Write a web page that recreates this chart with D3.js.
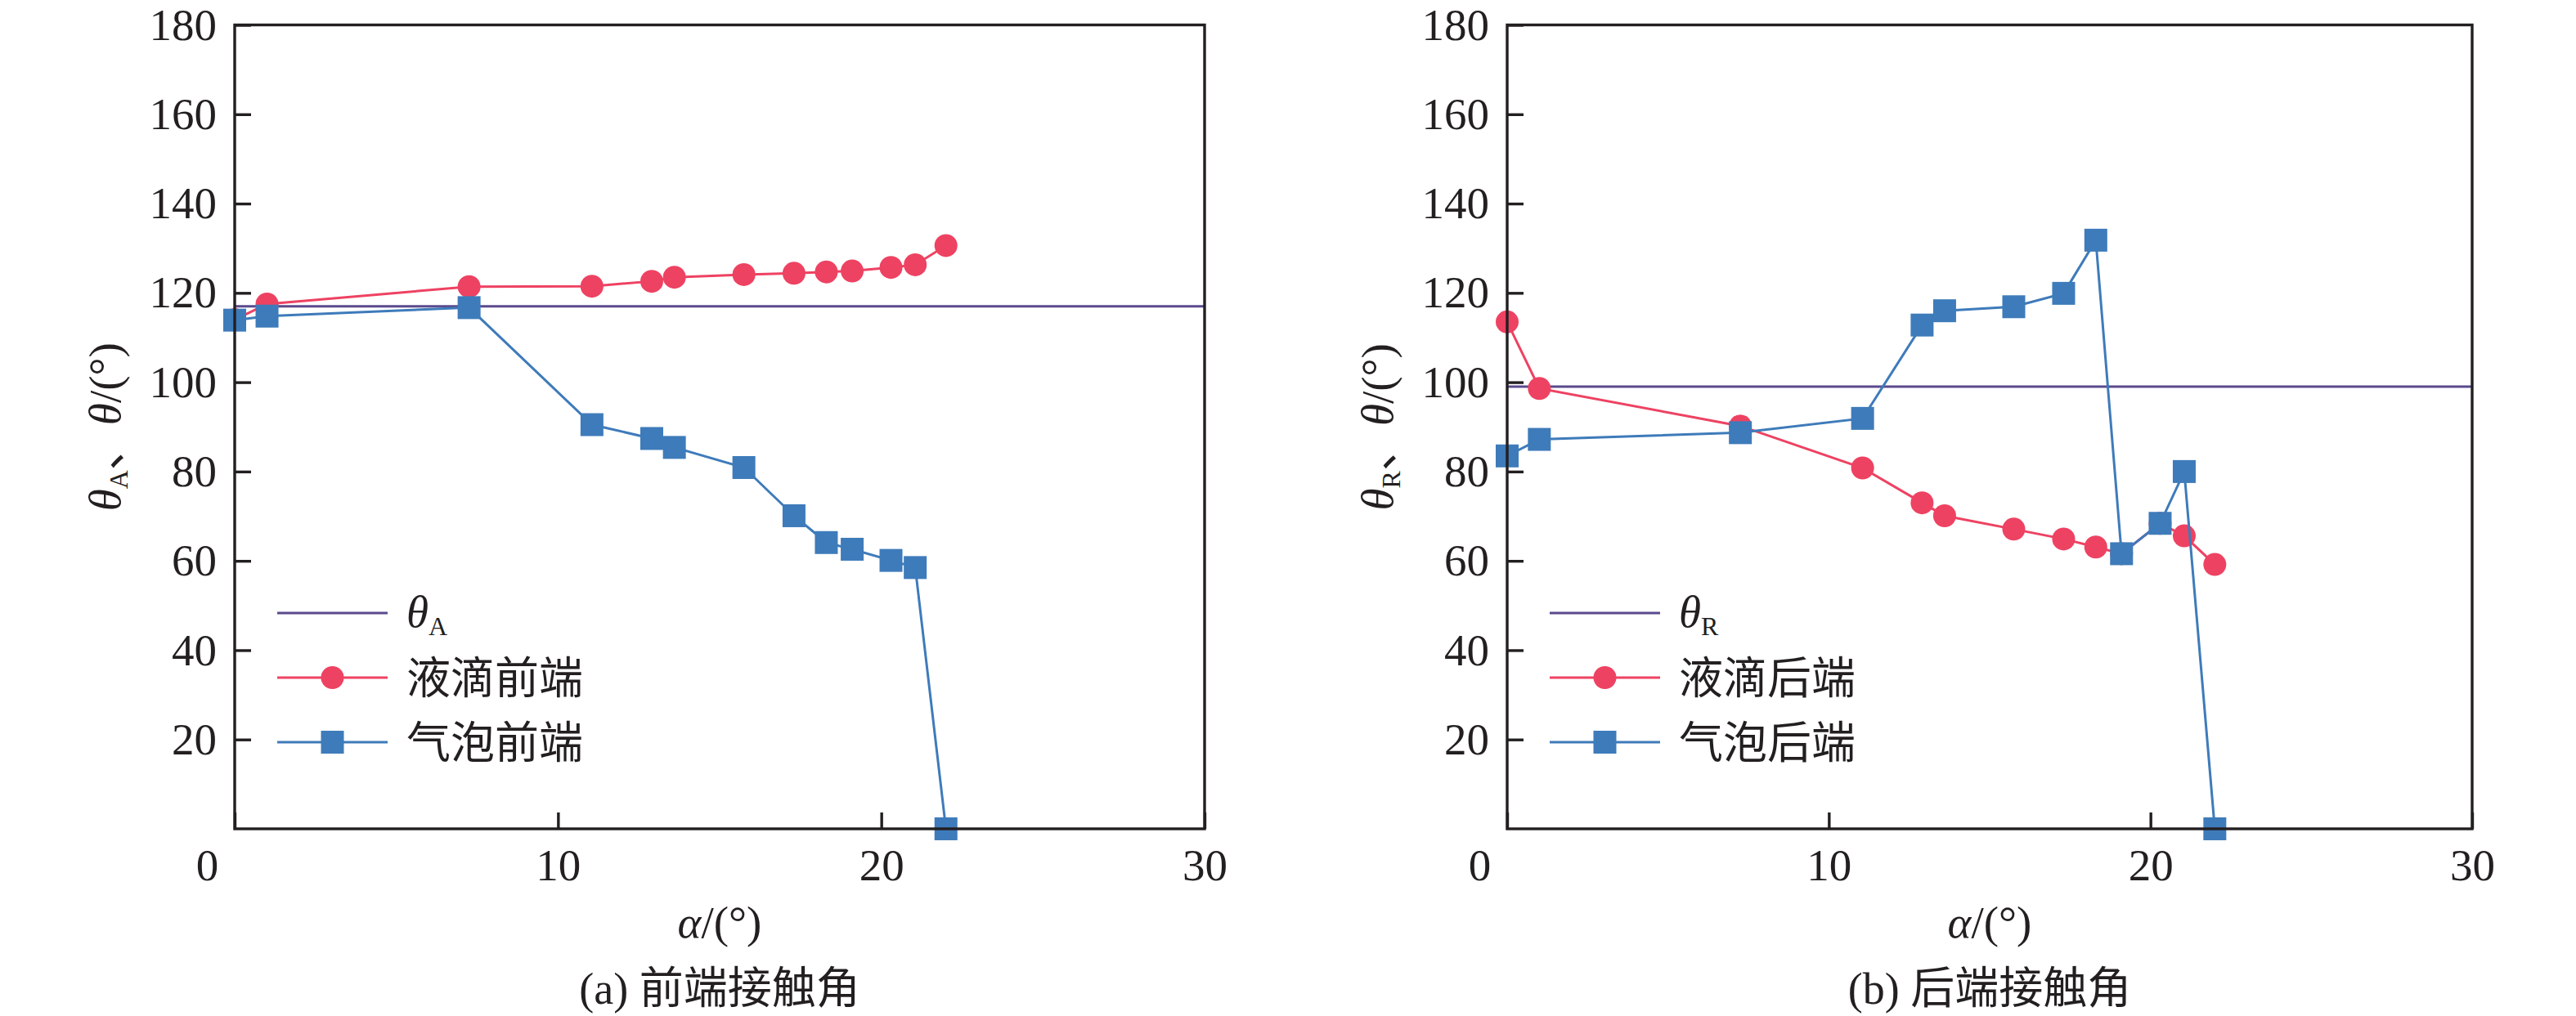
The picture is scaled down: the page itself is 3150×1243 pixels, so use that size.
<!DOCTYPE html>
<html>
<head>
<meta charset="utf-8">
<script src="https://cdn.jsdelivr.net/npm/d3@7"></script>
<style>
  body { margin: 0; background: #fff; }
  svg { display: block; }
</style>
</head>
<body>
<div id="chart"></div>
<script>
// contact angle vs. inclination, two panels (front / rear)
const alpha = [0, 1.0, 7.25, 11.05, 12.9, 13.6, 15.75, 17.3, 18.3, 19.1, 20.3, 21.05, 22.0];

const dropFront   = [114.0, 117.5, 121.4, 121.5, 122.6, 123.5, 124.1, 124.4, 124.7, 124.9, 125.7, 126.3, 130.6];
const bubbleFront = [113.9, 114.8, 116.7, 90.5, 87.4, 85.4, 80.9, 70.1, 64.1, 62.6, 60.1, 58.5, 0];
const thetaA = 117;

const dropRear   = [113.5, 98.6, 90.2, 80.8, 73.0, 70.1, 67.1, 64.9, 63.1, 61.6, 68.4, 65.6, 59.2];
const bubbleRear = [83.5, 87.2, 88.7, 91.9, 112.8, 116.0, 116.9, 119.9, 131.8, 61.6, 68.4, 80.0, 0];
const thetaR = 99;

const xTicks = [0, 10, 20, 30];
const yTicks = [20, 40, 60, 80, 100, 120, 140, 160, 180];

const legendFront = ["液滴前端", "气泡前端"];
const legendRear  = ["液滴后端", "气泡后端"];
const captions = ["(a) 前端接触角", "(b) 后端接触角"];

const RED = "#ee4262", BLUE = "#3e7bba", PURPLE = "#5b4a8d", INK = "#231f20";
const LATIN = "'Liberation Serif','Times New Roman',serif";
const MIXED = "'Liberation Serif','Noto Sans CJK SC',serif";

const W = 3150, H = 1243;
const svg = d3.select("#chart").append("svg").attr("width", W).attr("height", H);

function drawPanel(p) {
  const top = 30.5, bottom = 1014;
  const x = d3.scaleLinear().domain([0, 30]).range([p.left, p.right]);
  const y = d3.scaleLinear().domain([0, 180]).range([bottom, top]);
  const g = svg.append("g");

  // reference line (theta_A / theta_R)
  g.append("line")
    .attr("x1", x(0)).attr("x2", x(30))
    .attr("y1", y(p.ref)).attr("y2", y(p.ref))
    .attr("stroke", PURPLE).attr("stroke-width", 3);

  const line = d3.line().x(d => x(d[0])).y(d => y(d[1]));

  // drop series
  const drop = d3.zip(alpha, p.drop);
  g.append("path").datum(drop).attr("d", line)
    .attr("fill", "none").attr("stroke", RED).attr("stroke-width", 3);
  g.selectAll(".dot").data(drop).enter().append("circle")
    .attr("cx", d => x(d[0])).attr("cy", d => y(d[1])).attr("r", 14)
    .attr("fill", RED);

  // bubble series
  const bub = d3.zip(alpha, p.bubble);
  g.append("path").datum(bub).attr("d", line)
    .attr("fill", "none").attr("stroke", BLUE).attr("stroke-width", 3);
  g.selectAll(".sq").data(bub).enter().append("rect")
    .attr("x", d => x(d[0]) - 14).attr("y", d => y(d[1]) - 14)
    .attr("width", 28).attr("height", 28)
    .attr("fill", BLUE);

  // frame
  g.append("rect")
    .attr("x", x(0)).attr("y", top)
    .attr("width", x(30) - x(0)).attr("height", bottom - top)
    .attr("fill", "none").attr("stroke", INK).attr("stroke-width", 3.4);

  // axes
  const ax = g.append("g").attr("transform", `translate(0,${bottom})`)
    .call(d3.axisBottom(x).tickValues(xTicks).tickSize(-20).tickPadding(24).tickFormat(d3.format("d")));
  const ay = g.append("g").attr("transform", `translate(${x(0)},0)`)
    .call(d3.axisLeft(y).tickValues(yTicks).tickSize(-20).tickPadding(22).tickFormat(d3.format("d")));
  [ax, ay].forEach(a => {
    a.select(".domain").remove();
    a.selectAll(".tick line").attr("stroke", INK).attr("stroke-width", 3.4);
    a.selectAll(".tick text").attr("fill", INK)
      .style("font-family", LATIN).style("font-size", "55px");
  });
  ax.selectAll(".tick text").filter(d => d === 0).attr("x", -34);

  // y label
  const yl = g.append("text")
    .attr("transform", `translate(${x(0) - 140},${(top + bottom) / 2}) rotate(-90)`)
    .attr("text-anchor", "middle")
    .attr("fill", INK)
    .style("font-family", LATIN).style("font-size", "55px");
  yl.append("tspan").style("font-style", "italic").text("θ");
  yl.append("tspan").attr("dy", 9).style("font-size", "32px").text(p.sub);
  yl.append("tspan").attr("dy", -9).style("font-family", MIXED).text("、");
  yl.append("tspan").style("font-style", "italic").text("θ");
  yl.append("tspan").text("/(°)");

  // x label
  const xl = g.append("text")
    .attr("x", (x(0) + x(30)) / 2).attr("y", 1147)
    .attr("text-anchor", "middle").attr("fill", INK)
    .style("font-family", LATIN).style("font-size", "55px");
  xl.append("tspan").style("font-style", "italic").text("α");
  xl.append("tspan").text("/(°)");

  // caption
  g.append("text")
    .attr("x", (x(0) + x(30)) / 2).attr("y", 1228)
    .attr("text-anchor", "middle").attr("fill", INK)
    .style("font-family", MIXED).style("font-size", "54px")
    .text(p.caption);

  // legend
  const lx0 = x(0) + 52, lx1 = x(0) + 187, tx = x(0) + 210;
  const rows = [750, 829, 908];
  const lg = g.append("g");
  lg.append("line").attr("x1", lx0).attr("x2", lx1).attr("y1", rows[0]).attr("y2", rows[0])
    .attr("stroke", PURPLE).attr("stroke-width", 3);
  const t0 = lg.append("text").attr("x", tx).attr("y", rows[0] + 17).attr("fill", INK)
    .style("font-family", LATIN).style("font-size", "55px");
  t0.append("tspan").style("font-style", "italic").text("θ");
  t0.append("tspan").attr("dy", 10).style("font-size", "32px").text(p.sub);

  lg.append("line").attr("x1", lx0).attr("x2", lx1).attr("y1", rows[1]).attr("y2", rows[1])
    .attr("stroke", RED).attr("stroke-width", 3);
  lg.append("circle").attr("cx", (lx0 + lx1) / 2).attr("cy", rows[1]).attr("r", 14).attr("fill", RED);
  lg.append("line").attr("x1", lx0).attr("x2", lx1).attr("y1", rows[2]).attr("y2", rows[2])
    .attr("stroke", BLUE).attr("stroke-width", 3);
  lg.append("rect").attr("x", (lx0 + lx1) / 2 - 14).attr("y", rows[2] - 14)
    .attr("width", 28).attr("height", 28).attr("fill", BLUE);
  [1, 2].forEach(i => {
    lg.append("text").attr("x", tx).attr("y", rows[i] + 20).attr("fill", INK)
      .style("font-family", MIXED).style("font-size", "54px")
      .text(p.legend[i - 1]);
  });
}

drawPanel({ left: 287, right: 1473, drop: dropFront, bubble: bubbleFront, ref: thetaA,
            sub: "A", legend: legendFront, caption: captions[0] });
drawPanel({ left: 1843, right: 3023, drop: dropRear, bubble: bubbleRear, ref: thetaR,
            sub: "R", legend: legendRear, caption: captions[1] });
</script>
</body>
</html>
